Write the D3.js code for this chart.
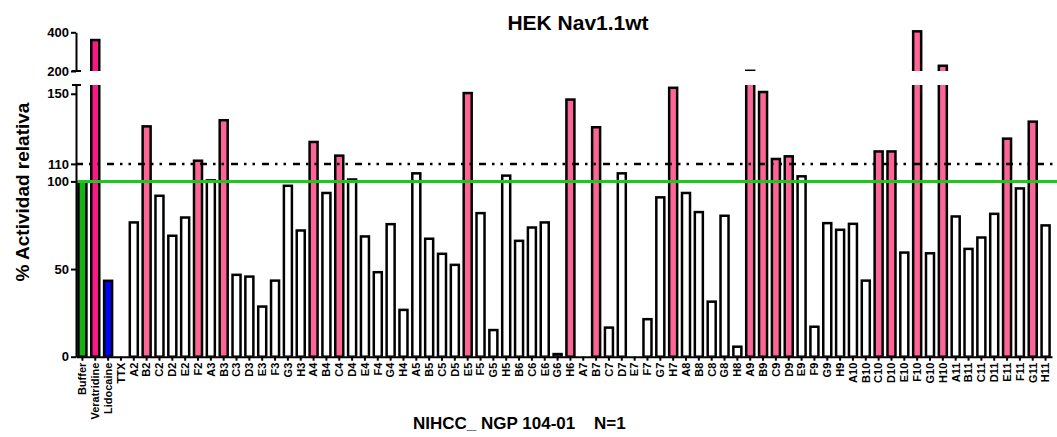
<!DOCTYPE html>
<html>
<head>
<meta charset="utf-8">
<script src="https://cdn.jsdelivr.net/npm/d3@7"></script>
<style>
  body { margin: 0; background: #fff; }
  text { font-family: "Liberation Sans", Arial, sans-serif; font-weight: bold; }
</style>
</head>
<body>
<div id="chart"></div>
<script>
// categories (x axis)
var categories = ["Buffer", "Veratridine", "Lidocaine", "TTX",
  "A2", "B2", "C2", "D2", "E2", "F2",
  "A3", "B3", "C3", "D3", "E3", "F3", "G3", "H3",
  "A4", "B4", "C4", "D4", "E4", "F4", "G4", "H4",
  "A5", "B5", "C5", "D5", "E5", "F5", "G5", "H5",
  "B6", "C6", "E6", "G6", "H6",
  "A7", "B7", "C7", "D7", "E7", "F7", "G7", "H7",
  "A8", "B8", "C8", "G8", "H8",
  "A9", "B9", "C9", "D9", "E9", "F9", "G9", "H9",
  "A10", "B10", "C10", "D10", "E10", "F10", "G10", "H10",
  "A11", "B11", "C11", "D11", "E11", "F11", "G11", "H11"];

// % relative activity
var values = [100, 360, 43.3, 0,
  76.6, 131.4, 91.8, 69, 79.4, 111.8,
  100.6, 134.9, 46.7, 45.7, 28.6, 43.4, 97.5, 72,
  122.5, 93.4, 114.7, 101.1, 68.6, 48.2, 75.6, 26.7,
  104.6, 67.3, 58.7, 52.4, 150.4, 81.9, 15.2, 103.3,
  66.1, 73.7, 76.6, 1.5, 146.7,
  0, 130.9, 16.6, 104.6, 0, 21.4, 90.9, 153.4,
  93.4, 82.5, 31.4, 80.4, 5.7,
  201, 151, 112.8, 114.3, 102.9, 17.1, 76.2, 72.4,
  75.8, 43.4, 117.1, 117.1, 59.4, 405, 59, 227,
  80, 61.5, 68, 81.5, 124.4, 96, 134.1, 74.9];

// bar kind: controls by name, h = hit (pink), n = plain
var kinds = ["buffer", "veratridine", "lidocaine", "ttx",
  "n", "h", "n", "n", "n", "h",
  "n", "h", "n", "n", "n", "n", "n", "n",
  "h", "n", "h", "n", "n", "n", "n", "n",
  "n", "n", "n", "n", "h", "n", "n", "n",
  "n", "n", "n", "n", "h",
  "n", "h", "n", "n", "n", "n", "n", "h",
  "n", "n", "n", "n", "n",
  "h", "h", "h", "h", "n", "n", "n", "n",
  "n", "n", "h", "h", "n", "h", "n", "h",
  "n", "n", "n", "n", "h", "n", "h", "n"];

var lowTicks = [0, 50, 100, 110, 150];
var highTicks = [200, 400];
var refBuffer = 100, refThreshold = 110;

var fills = { buffer: "#13b413", veratridine: "#f71a84", lidocaine: "#0000ff", ttx: "#ffffff", h: "#fc6596", n: "#ffffff" };

var width = 1057, height = 437;
var svg = d3.select("#chart").append("svg")
  .attr("width", width).attr("height", height);

var x = d3.scaleBand().domain(categories).range([76, 1052]);
var yLow = d3.scaleLinear().domain([0, 155]).range([356.7, 85]);
var yHigh = d3.scaleLinear().domain([200, 400]).range([71, 32.3]);

var data = categories.map(function (c, i) { return { cat: c, v: values[i], k: kinds[i] }; });

// clip areas for the two y segments
var defs = svg.append("defs");
defs.append("clipPath").attr("id", "clipLow").append("rect")
  .attr("x", 0).attr("y", yLow(155)).attr("width", width).attr("height", yLow(0) - yLow(155));
defs.append("clipPath").attr("id", "clipHigh").append("rect")
  .attr("x", 0).attr("y", 0).attr("width", width).attr("height", yHigh(200));

var bw = 8;
function bx(d) { return x(d.cat) + (x.bandwidth() - bw) / 2; }

// lower segment bars
svg.append("g").attr("clip-path", "url(#clipLow)")
  .selectAll("rect").data(data.filter(function (d) { return d.v > 0; }))
  .enter().append("rect")
  .attr("x", bx)
  .attr("y", function (d) { return yLow(Math.min(d.v, 170)); })
  .attr("width", bw)
  .attr("height", function (d) { return yLow(0) - yLow(Math.min(d.v, 170)); })
  .style("fill", function (d) { return fills[d.k]; })
  .style("stroke", "#000").style("stroke-width", 2.5);

// upper segment bars
svg.append("g").attr("clip-path", "url(#clipHigh)")
  .selectAll("rect").data(data.filter(function (d) { return d.v > 200; }))
  .enter().append("rect")
  .attr("x", bx)
  .attr("y", function (d) { return yHigh(d.v); })
  .attr("width", bw)
  .attr("height", function (d) { return yHigh(190) - yHigh(d.v); })
  .style("fill", function (d) { return fills[d.k]; })
  .style("stroke", "#000").style("stroke-width", 2.5);

// reference lines
svg.append("line")
  .attr("x1", 76).attr("x2", width)
  .attr("y1", yLow(refThreshold)).attr("y2", yLow(refThreshold))
  .style("stroke", "#000").style("stroke-width", 2.5)
  .style("stroke-dasharray", "7,6,2.5,6,2.5,7");
svg.append("line")
  .attr("x1", 76).attr("x2", width)
  .attr("y1", yLow(refBuffer)).attr("y2", yLow(refBuffer))
  .style("stroke", "#1dc81d").style("stroke-width", 3);

// axes
function styleAxis(g) {
  g.selectAll("path, line").style("stroke", "#000").style("stroke-width", 2);
  g.selectAll("text").style("font-size", "13px").style("fill", "#000");
}
svg.append("g").attr("transform", "translate(76,0)")
  .call(d3.axisLeft(yLow).tickValues(lowTicks).tickSize(5).tickSizeOuter(0).tickPadding(2))
  .call(styleAxis);
svg.append("g").attr("transform", "translate(76,0)")
  .call(d3.axisLeft(yHigh).tickValues(highTicks).tickSize(5).tickSizeOuter(0).tickPadding(2))
  .call(styleAxis);

// break caps
[yLow(155), yHigh(200)].forEach(function (yy) {
  svg.append("line").attr("x1", 72).attr("x2", 81).attr("y1", yy).attr("y2", yy)
    .style("stroke", "#000").style("stroke-width", 2);
});

var xAxis = svg.append("g").attr("transform", "translate(0," + yLow(0) + ")")
  .call(d3.axisBottom(x).tickSize(4).tickSizeOuter(0))
  .call(styleAxis);
xAxis.selectAll("text")
  .style("font-size", "11px")
  .attr("transform", "rotate(-90)")
  .attr("text-anchor", "end")
  .attr("x", -6).attr("y", 0).attr("dy", "0.35em");

// titles
svg.append("text").attr("x", 578).attr("y", 30)
  .attr("text-anchor", "middle").style("font-size", "21px")
  .text("HEK Nav1.1wt");
svg.append("text")
  .attr("transform", "translate(29,192) rotate(-90)")
  .attr("text-anchor", "middle").style("font-size", "19px")
  .text("% Actividad relativa");
svg.append("text").attr("x", 413).attr("y", 429)
  .style("font-size", "17px").style("white-space", "pre")
  .text("NIHCC_ NGP 104-01    N=1");
</script>
</body>
</html>
